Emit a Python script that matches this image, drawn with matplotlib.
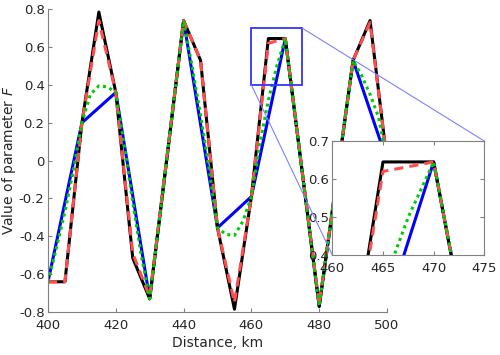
import matplotlib
matplotlib.use("Agg")
import matplotlib.pyplot as plt
from matplotlib.patches import Rectangle, ConnectionPatch
from matplotlib.ticker import FuncFormatter

plt.rcParams['font.family'] = ['DejaVu Sans']
plt.rcParams['axes.unicode_minus'] = False

# Datos
dist_5 = [400, 405, 410, 415, 420, 425, 430, 435, 440, 445, 450,
          455, 460, 465, 470, 475, 480, 485, 490, 495, 500]
f_negro = [-0.64, -0.64, 0.20, 0.785, 0.36, -0.515, -0.73, 0.00, 0.74, 0.53, -0.355,
           -0.785, -0.19, 0.645, 0.645, -0.06, -0.77, -0.12, 0.53, 0.74, 0.00]
f_rojo = [-0.64, -0.64, 0.20, 0.74, 0.36, -0.49, -0.72, 0.01, 0.74, 0.53, -0.355,
          -0.75, -0.19, 0.62, 0.645, -0.06, -0.76, -0.12, 0.53, 0.73, 0.00]

dist_10 = [400, 410, 420, 430, 440, 450, 460, 470, 480, 490, 500]
f_azul = [-0.64, 0.20, 0.36, -0.73, 0.74, -0.355, -0.19, 0.645, -0.77, 0.53, 0.00]

dist_25 = [400, 402.5, 405, 407.5, 410, 412.5, 415, 417.5, 420, 422.5, 425,
           427.5, 430, 432.5, 435, 437.5, 440, 442.5, 445, 447.5, 450,
           452.5, 455, 457.5, 460, 462.5, 465, 467.5, 470, 472.5, 475,
           477.5, 480, 482.5, 485, 487.5, 490, 492.5, 495, 497.5, 500]
f_verde = [-0.64, -0.46, -0.27, -0.05, 0.20, 0.35, 0.395, 0.39, 0.36, 0.08, -0.22,
           -0.50, -0.73, -0.37, 0.00, 0.37, 0.74, 0.50, 0.24, -0.04, -0.355,
           -0.39, -0.395, -0.32, -0.19, 0.09, 0.32, 0.50, 0.645, 0.30, -0.06,
           -0.42, -0.77, -0.44, -0.11, 0.21, 0.53, 0.45, 0.35, 0.23, 0.00]

# Zona ampliada
zoom_x = (460, 475)
zoom_y = (0.4, 0.7)

gris = '#808080'
texto = '#262626'


def dibujar(ax):
    ax.plot(dist_10, f_azul, color='#0000ff', linewidth=2.2)
    ax.plot(dist_5, f_negro, color='black', linewidth=2.2)
    ax.plot(dist_5, f_rojo, color='#ff4d4d', linewidth=2.2, linestyle=(0, (3, 2)))
    ax.plot(dist_25, f_verde, color='#00cc00', linewidth=2.2, linestyle=(0, (1, 1.2)))


def estilo(ax):
    for s in ax.spines.values():
        s.set_color(gris)
    ax.tick_params(direction='in', length=3, pad=2.5, colors=gris,
                   labelcolor=texto, labelsize=9.5)
    ax.tick_params(axis='x', pad=5)
    ax.yaxis.set_major_formatter(FuncFormatter(lambda v, p: f"{v:g}"))


fig = plt.figure(figsize=(5, 3.55), dpi=100)
ax = fig.add_axes([0.096, 0.121, 0.678, 0.853])
dibujar(ax)
ax.set_xlim(400, 500)
ax.set_ylim(-0.8, 0.8)
ax.set_xticks(range(400, 501, 20))
ax.set_yticks([-0.8, -0.6, -0.4, -0.2, 0, 0.2, 0.4, 0.6, 0.8])
estilo(ax)
ax.spines['top'].set_visible(False)
ax.spines['right'].set_visible(False)
ax.set_xlabel("Distance, km", fontsize=10, color=texto, labelpad=3)
ax.set_ylabel("Value of parameter $F$", fontsize=10, color=texto)
ax.yaxis.set_label_coords(-0.088, 0.5)

# Recuadro de zoom
ax.add_patch(Rectangle((zoom_x[0], zoom_y[0]), zoom_x[1] - zoom_x[0], zoom_y[1] - zoom_y[0],
                       fill=False, edgecolor='#3333ff', linewidth=1.3, zorder=5))

axins = fig.add_axes([0.6646, 0.2817, 0.304, 0.321])
dibujar(axins)
axins.set_xlim(*zoom_x)
axins.set_ylim(*zoom_y)
axins.set_xticks(range(460, 476, 5))
axins.set_yticks([0.4, 0.5, 0.6, 0.7])
estilo(axins)
axins.tick_params(top=True, right=True)

for xa, ya in [(zoom_x[1], zoom_y[1]), (zoom_x[0], zoom_y[0])]:
    con = ConnectionPatch(xyA=(xa, ya), coordsA=ax.transData,
                          xyB=(xa, ya), coordsB=axins.transData,
                          color='#8080ff', linewidth=0.8)
    fig.add_artist(con)

fig.savefig("out.png", dpi=100)
